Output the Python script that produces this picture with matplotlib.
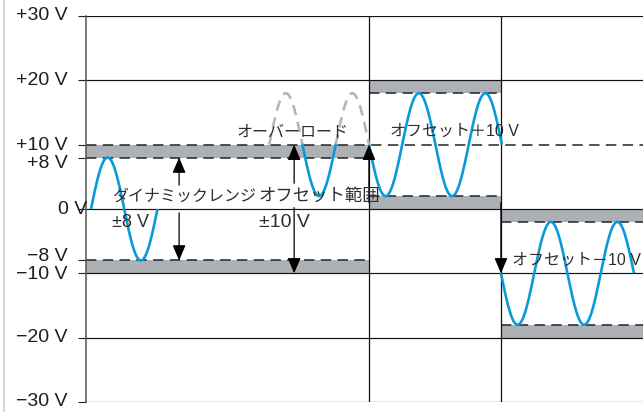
import numpy as np
import matplotlib
matplotlib.use("Agg")
import matplotlib.pyplot as plt
from matplotlib.transforms import offset_copy
from matplotlib.lines import Line2D

# ---------------- data ----------------
tick_values = [30, 20, 10, 8, 0, -8, -10, -20, -30]
tick_labels = ["+30 V", "+20 V", "+10 V", "+8 V", "0 V", "−8 V", "−10 V", "−20 V", "−30 V"]
solid_levels = [30, 20, 0, -10, -20, -30]
dashed_full_levels = [10]

# sections (x in signal periods)
section_edges = [0.0, 4.255, 6.24, 8.376]
band_low = [[8, -10], [18, 0], [-2, -20]]
band_high = [[10, -8], [20, 2], [0, -18]]
dashed_section_levels = [[8, -8], [18, 2], [-2, -18]]

amplitude = 8
signal_start = [0.075, 4.255, 6.24]
signal_cycles = [1, 2, 2]
signal_offset = [0, 10, -10]
signal_direction = [1, -1, -1]

overload_start = 2.755
overload_cycles = 1.5
overload_offset = 10
overload_limit = 10

# ---------------- style ----------------
BLUE = "#0a9ad8"
BAND = "#adb1b5"
GHOST = "#b3b7bb"
DASH = "#2a2a2a"
JP = ["Noto Sans CJK JP", "DejaVu Sans"]
LAT = ["Liberation Sans", "DejaVu Sans"]
MIX = ["Liberation Sans", "Noto Sans CJK JP", "DejaVu Sans"]

fig = plt.figure(figsize=(6.43, 4.12), dpi=100)
ax = fig.add_axes([86 / 643, 10 / 412, 557 / 643, 386 / 412])
ax.set_xlim(section_edges[0], section_edges[-1])
ax.set_ylim(-30, 30)
for s in ["top", "right", "bottom"]:
    ax.spines[s].set_visible(False)
ax.spines["left"].set_color("#555555")
ax.spines["left"].set_linewidth(1.1)
ax.set_xticks([])
ax.set_yticks(tick_values)
ax.set_yticklabels([])
ax.tick_params(axis="y", length=5.8, width=0.8, color="#222222", direction="out")

# light frame line at the far left of the figure
fig.add_artist(Line2D([3.5 / 643, 3.5 / 643], [0, 1], transform=fig.transFigure,
                      color="#d3d7db", lw=1.4))

# bands
for i in range(3):
    x0, x1 = section_edges[i], section_edges[i + 1]
    for lo, hi in zip(band_low[i], band_high[i]):
        ax.fill_between([x0, x1], lo, hi, color=BAND, lw=0, zorder=1)
    for lv in dashed_section_levels[i]:
        ax.plot([x0, x1], [lv, lv], color=DASH, lw=1.15, ls=(0, (6.5, 4)), zorder=2)

# grid lines
for lv in solid_levels:
    ax.axhline(lv, color="#111111", lw=0.85, zorder=2)
for lv in dashed_full_levels:
    ax.axhline(lv, color=DASH, lw=1.15, ls=(0, (6.5, 4)), zorder=2)
for xe in section_edges[1:3]:
    ax.axvline(xe, color="#111111", lw=0.9, zorder=3)

# signals
for st, cy, off, d in zip(signal_start, signal_cycles, signal_offset, signal_direction):
    t = np.linspace(st, st + cy, 400)
    ax.plot(t, off + d * amplitude * np.sin(2 * np.pi * (t - st)), color=BLUE, lw=1.9,
            zorder=4, solid_capstyle="butt")

# overload signal
t = np.linspace(overload_start, overload_start + overload_cycles, 800)
v = overload_offset + amplitude * np.sin(2 * np.pi * (t - overload_start))
ax.plot(t, np.ma.masked_where(v < overload_limit, v), color=GHOST, lw=1.9,
        ls=(0, (4.0, 2.6)), zorder=4)
ax.plot(t, np.ma.masked_where(v > overload_limit, v), color=BLUE, lw=1.9, zorder=4)

# arrows
def arrow(x, y0, y1):
    ax.annotate("", xy=(x, y1), xytext=(x, y0),
                arrowprops=dict(arrowstyle="-|>,head_length=0.47,head_width=0.2",
                                mutation_scale=20, color="black", lw=0.9,
                                shrinkA=0, shrinkB=0), zorder=5)

arrow(1.40, 3.7, 8)
arrow(1.40, -0.6, -8)
arrow(3.13, 4.0, 10)
arrow(3.13, 0.2, -10)
arrow(section_edges[1], 1.0, 10)
arrow(section_edges[2], 1.0, -10)

# tick labels (placed manually like the reference)
nudges = {8: (0, -5.5), 0: (19, 0), -8: (0, 3.5), -10: (0, -1), 10: (0, -1)}
for val, lab in zip(tick_values, tick_labels):
    dx, dy = nudges.get(val, (0, 0))
    tr = offset_copy(ax.get_yaxis_transform(), fig=fig, x=(-18 + dx) * 0.72,
                     y=dy * 0.72, units="points")
    ax.text(0, val, lab, transform=tr, ha="right", va="center", fontsize=14,
            family=LAT, color="#1e1e1e")

# annotations
TXT = "#2e2e2e"
ax.text(0.39, 2.0, "ダイナミックレンジ", family=JP, fontsize=11.5, va="center", ha="left",
        color=TXT, zorder=6)
ax.text(0.39, -2.1, "±8 V", family=LAT, fontsize=13, va="center", ha="left",
        color=TXT, zorder=6)
ax.text(2.60, 2.0, "オフセット範囲", family=JP, fontsize=12.5, va="center", ha="left",
        color=TXT, zorder=6)
ax.text(2.60, -2.1, "±10 V", family=LAT, fontsize=14, va="center", ha="left",
        color=TXT, zorder=6)
ax.text(2.27, 12.0, "オーバーロード", family=JP, fontsize=11.5, va="center", ha="left",
        color=TXT, zorder=6)
ax.text(4.57, 12.1, "オフセット＋10 V", family=MIX, fontsize=11.5, va="center", ha="left",
        color=TXT, zorder=6)
ax.text(6.41, -7.9, "オフセット－10 V", family=MIX, fontsize=11.5, va="center", ha="left",
        color=TXT, zorder=6)

fig.savefig("out.png", dpi=100)
